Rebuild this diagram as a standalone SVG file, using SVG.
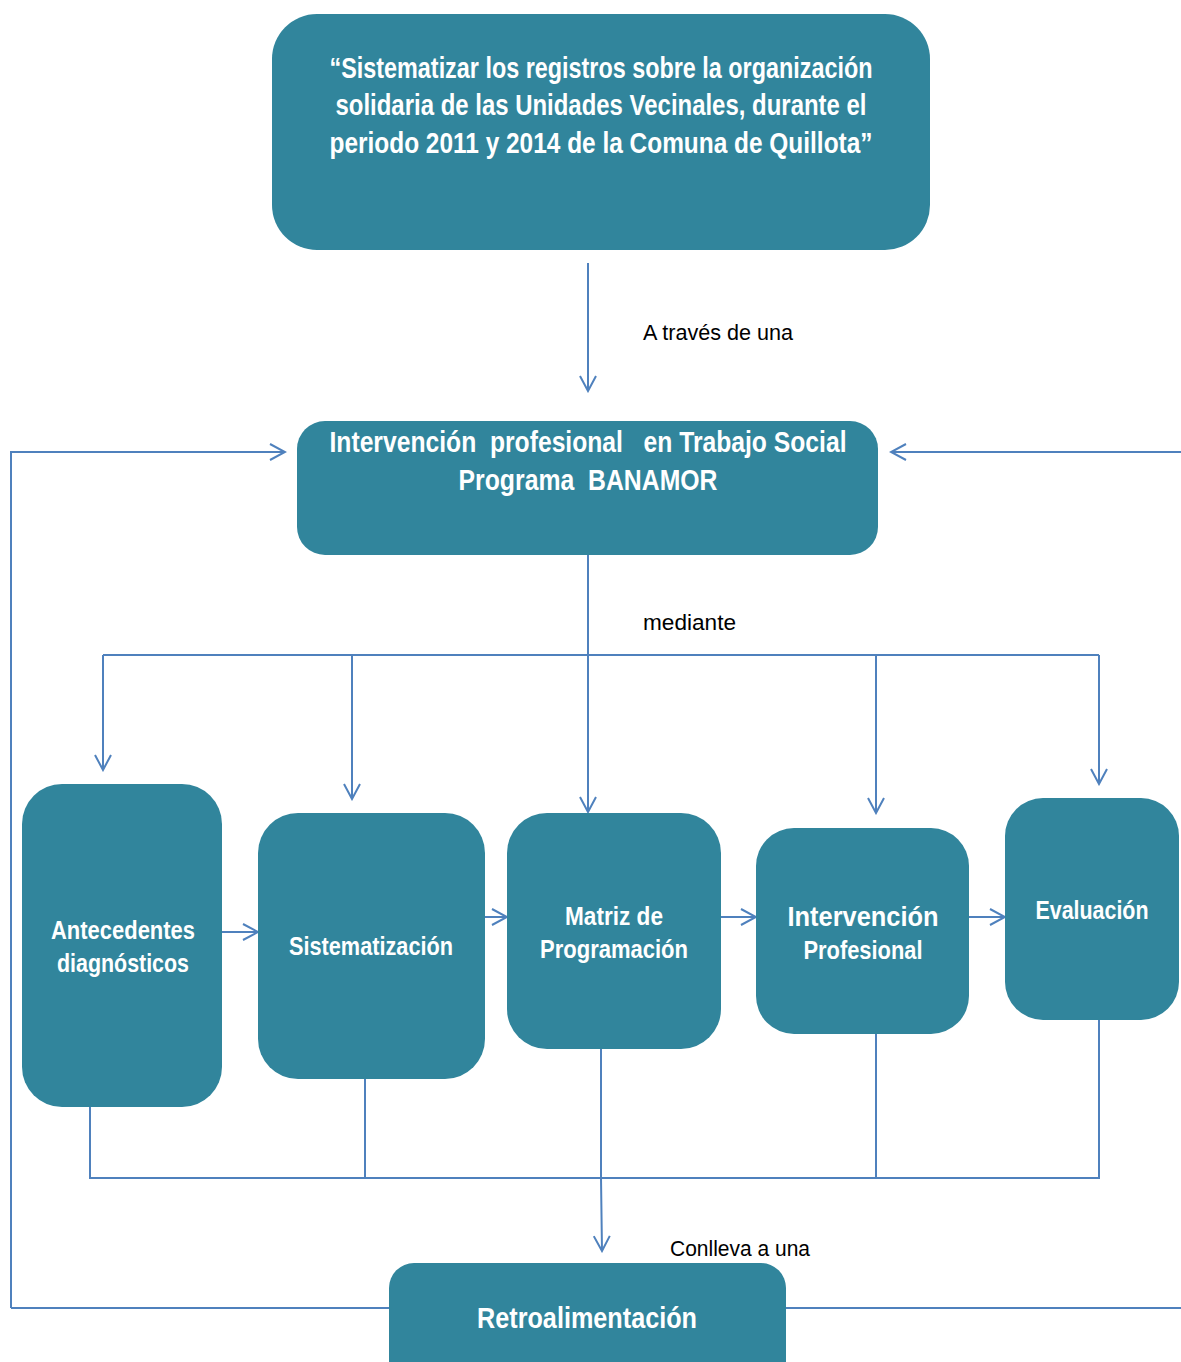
<svg xmlns="http://www.w3.org/2000/svg" width="1181" height="1362" viewBox="0 0 1181 1362">
<style>
.box{fill:#31859C}
.t{font-family:"Liberation Sans",Arial,sans-serif;font-weight:bold;fill:#ffffff;text-anchor:middle}
.lbl{font-family:"Liberation Sans",Arial,sans-serif;fill:#000000;font-size:22px}
.c{fill:none;stroke:#4F81BD;stroke-width:2}
</style>
<defs>
<marker id="ah" markerUnits="userSpaceOnUse" viewBox="0 0 18 18" markerWidth="18" markerHeight="18" refX="16" refY="9" orient="auto">
<path d="M1,1 L16,9 L1,17" fill="none" stroke="#4F81BD" stroke-width="2"/>
</marker>
</defs>
<rect width="1181" height="1362" fill="#ffffff"/>
<g id="connectors">
<path class="c" d="M588,263 V391" marker-end="url(#ah)"/>
<path class="c" d="M11,1308 V452 H285" marker-end="url(#ah)"/>
<path class="c" d="M11,1308 H389"/>
<path class="c" d="M1181,452 H891" marker-end="url(#ah)"/>
<path class="c" d="M786,1308 H1181"/>
<path class="c" d="M588,555 V812" marker-end="url(#ah)"/>
<path class="c" d="M103,655 H1099"/>
<path class="c" d="M103,655 V770" marker-end="url(#ah)"/>
<path class="c" d="M352,655 V799" marker-end="url(#ah)"/>
<path class="c" d="M876,655 V813" marker-end="url(#ah)"/>
<path class="c" d="M1099,655 V784" marker-end="url(#ah)"/>
<path class="c" d="M222,932 H258" marker-end="url(#ah)"/>
<path class="c" d="M485,917 H507" marker-end="url(#ah)"/>
<path class="c" d="M721,917 H756" marker-end="url(#ah)"/>
<path class="c" d="M969,917 H1005" marker-end="url(#ah)"/>
<path class="c" d="M90,1107 V1178 H1099 V1020"/>
<path class="c" d="M365,1079 V1178"/>
<path class="c" d="M876,1034 V1178"/>
<path class="c" d="M601,1049 V1178 L602,1251" marker-end="url(#ah)"/>
</g>
<g id="n-objetivo">
<rect class="box" x="272" y="14" width="658" height="236" rx="45"/>
<text class="t" font-size="29" x="601" y="78" textLength="543" lengthAdjust="spacingAndGlyphs">“Sistematizar los registros sobre la organización</text>
<text class="t" font-size="29" x="601" y="115" textLength="531" lengthAdjust="spacingAndGlyphs">solidaria de las Unidades Vecinales, durante el</text>
<text class="t" font-size="29" x="601" y="153" textLength="543" lengthAdjust="spacingAndGlyphs">periodo 2011 y 2014 de la Comuna de Quillota”</text>
</g>
<text class="lbl" x="643" y="340" textLength="150" lengthAdjust="spacingAndGlyphs">A través de una</text>
<g id="n-intervencion-ts">
<rect class="box" x="297" y="421" width="581" height="134" rx="28"/>
<text class="t" font-size="29" x="588" y="452" textLength="517" lengthAdjust="spacingAndGlyphs" xml:space="preserve">Intervención  profesional   en Trabajo Social</text>
<text class="t" font-size="29" x="588" y="490" textLength="259" lengthAdjust="spacingAndGlyphs" xml:space="preserve">Programa  BANAMOR</text>
</g>
<text class="lbl" x="643" y="630" textLength="93" lengthAdjust="spacingAndGlyphs">mediante</text>
<g id="n-antecedentes">
<rect class="box" x="22" y="784" width="200" height="323" rx="40"/>
<text class="t" font-size="25" x="123" y="939" textLength="144" lengthAdjust="spacingAndGlyphs">Antecedentes</text>
<text class="t" font-size="25" x="123" y="972" textLength="132" lengthAdjust="spacingAndGlyphs">diagnósticos</text>
</g>
<g id="n-sistematizacion">
<rect class="box" x="258" y="813" width="227" height="266" rx="40"/>
<text class="t" font-size="25" x="371" y="955" textLength="164" lengthAdjust="spacingAndGlyphs">Sistematización</text>
</g>
<g id="n-matriz">
<rect class="box" x="507" y="813" width="214" height="236" rx="40"/>
<text class="t" font-size="25" x="614" y="925" textLength="98" lengthAdjust="spacingAndGlyphs">Matriz de</text>
<text class="t" font-size="25" x="614" y="958" textLength="148" lengthAdjust="spacingAndGlyphs">Programación</text>
</g>
<g id="n-intervencion-prof">
<rect class="box" x="756" y="828" width="213" height="206" rx="38"/>
<text class="t" font-size="28" x="863" y="926" textLength="151" lengthAdjust="spacingAndGlyphs">Intervención</text>
<text class="t" font-size="25" x="863" y="959" textLength="119" lengthAdjust="spacingAndGlyphs">Profesional</text>
</g>
<g id="n-evaluacion">
<rect class="box" x="1005" y="798" width="174" height="222" rx="38"/>
<text class="t" font-size="25" x="1092" y="919" textLength="113" lengthAdjust="spacingAndGlyphs">Evaluación</text>
</g>
<text class="lbl" x="670" y="1256" textLength="140" lengthAdjust="spacingAndGlyphs">Conlleva a una</text>
<g id="n-retro">
<rect class="box" x="389" y="1263" width="397" height="130" rx="25"/>
<text class="t" font-size="29" x="587" y="1328" textLength="220" lengthAdjust="spacingAndGlyphs">Retroalimentación</text>
</g>
</svg>
